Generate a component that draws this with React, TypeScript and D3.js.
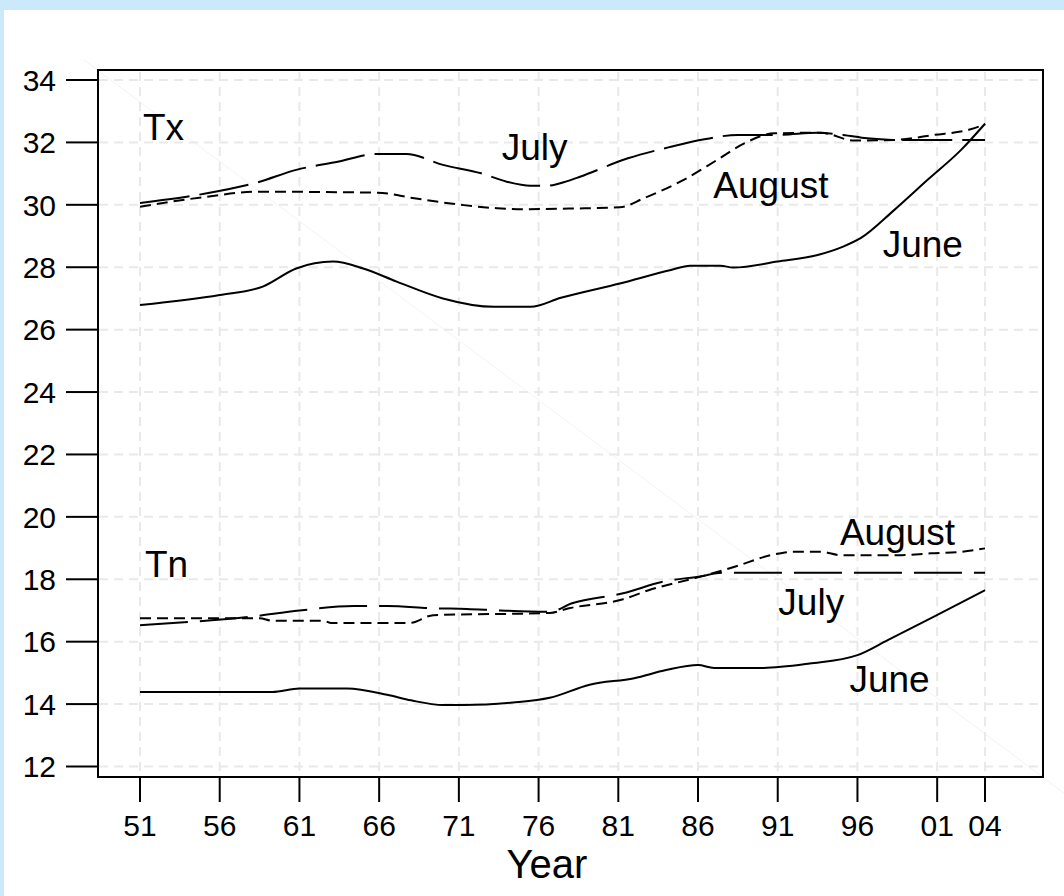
import React from "react";
import * as d3 from "d3";

// ---- Data (year, °C) ----
const txJune: [number, number][] = [
  [1951, 26.79], [1956, 27.11], [1958.7, 27.38], [1960.8, 27.96], [1963.1, 28.18],
  [1965, 27.96], [1967.1, 27.54], [1970, 27.0], [1973.2, 26.73], [1975.5, 26.73],
  [1977.4, 27.02], [1981.1, 27.48], [1984.3, 27.91], [1985.5, 28.05], [1987.4, 28.05],
  [1988.2, 27.99], [1991, 28.18], [1993.5, 28.39], [1995.1, 28.66], [1996.2, 28.93],
  [1998.3, 29.83], [2000.4, 30.8], [2002.5, 31.76], [2004, 32.6],
];
const txJuly: [number, number][] = [
  [1951, 30.06], [1955.2, 30.37], [1958.3, 30.71], [1960.8, 31.12], [1963.4, 31.38],
  [1965.9, 31.63], [1967.7, 31.63], [1970, 31.28], [1972.4, 31.01], [1974, 30.74],
  [1975.5, 30.61], [1976.5, 30.61], [1977.8, 30.76], [1978.6, 30.9], [1981.6, 31.49],
  [1984.3, 31.86], [1986.4, 32.1], [1988.5, 32.24], [1991, 32.24], [1993.5, 32.31],
  [1995.1, 32.24], [1996.6, 32.13], [1998.3, 32.08], [2004, 32.08],
];
const txAugust: [number, number][] = [
  [1951, 29.94], [1955.2, 30.26], [1958.3, 30.42], [1965.9, 30.39], [1968.2, 30.21],
  [1971.3, 29.99], [1973.4, 29.89], [1975.1, 29.86], [1978, 29.88], [1981.1, 29.92],
  [1982.6, 30.21], [1985.1, 30.8], [1987.2, 31.44], [1988.9, 31.97], [1990.8, 32.29],
  [1993.7, 32.31], [1995.8, 32.06], [1998.3, 32.08], [2000.8, 32.24], [2003.1, 32.42],
  [2004, 32.58],
];
const tnJune: [number, number][] = [
  [1951, 14.39], [1959.3, 14.39], [1961, 14.5], [1964, 14.5], [1966.5, 14.3],
  [1968, 14.12], [1970, 13.97], [1971.3, 13.97], [1974.4, 14.05], [1976.7, 14.2],
  [1979.2, 14.62], [1982, 14.83], [1984, 15.09], [1986, 15.25], [1987, 15.16],
  [1990.1, 15.16], [1993, 15.3], [1996, 15.57], [1997.9, 16.05], [2000.8, 16.8],
  [2004, 17.65],
];
const tnJuly: [number, number][] = [
  [1951, 16.53], [1954.3, 16.64], [1957.8, 16.79], [1961, 17.0], [1964.4, 17.14],
  [1966.5, 17.14], [1969.4, 17.07], [1971.5, 17.05], [1973.6, 17.0], [1976.7, 16.96],
  [1978.1, 17.23], [1981.3, 17.55], [1983.8, 17.92], [1986.2, 18.1], [1987.5, 18.21],
  [2004, 18.21],
];
const tnAugust: [number, number][] = [
  [1951, 16.75], [1958.5, 16.75], [1959.3, 16.67], [1962.5, 16.67], [1963, 16.6],
  [1967.9, 16.6], [1969.4, 16.85], [1976.7, 16.92], [1977.9, 17.07], [1981.3, 17.36],
  [1982.9, 17.65], [1986, 18.06], [1988.3, 18.4], [1990.8, 18.8], [1992, 18.88],
  [1993.7, 18.88], [1995, 18.77], [1998.5, 18.77], [2000.6, 18.83], [2002.5, 18.88],
  [2004, 18.99],
];

const xTickYears = [1951, 1956, 1961, 1966, 1971, 1976, 1981, 1986, 1991, 1996, 2001, 2004];
const xTickLabels = ["51", "56", "61", "66", "71", "76", "81", "86", "91", "96", "01", "04"];
const yTicks = [12, 14, 16, 18, 20, 22, 24, 26, 28, 30, 32, 34];

const labels: { text: string; year: number; value: number }[] = [
  { text: "Tx", year: 1951.19, value: 32.08 },
  { text: "July", year: 1973.69, value: 31.44 },
  { text: "August", year: 1986.96, value: 30.21 },
  { text: "June", year: 1997.58, value: 28.32 },
  { text: "Tn", year: 1951.31, value: 18.08 },
  { text: "August", year: 1994.9, value: 19.1 },
  { text: "July", year: 1991.04, value: 16.85 },
  { text: "June", year: 1995.5, value: 14.39 },
];

const W = 1064;
const H = 896;
const frame = { left: 98, right: 1043, top: 70, bottom: 777 };
const FONT = "'Liberation Sans', Arial, Helvetica, sans-serif";

export default function App() {
  const x = d3.scaleLinear().domain([1951, 2004]).range([140, 985]);
  const y = d3.scaleLinear().domain([12, 34]).range([766.5, 80]);
  const line = d3
    .line<[number, number]>()
    .x((d) => x(d[0]))
    .y((d) => y(d[1]))
    .curve(d3.curveMonotoneX);

  const series = [
    { data: txJune, dash: "none" },
    { data: txJuly, dash: "50,10" },
    { data: txAugust, dash: "11,6" },
    { data: tnJune, dash: "none" },
    { data: tnJuly, dash: "48,12" },
    { data: tnAugust, dash: "11,6" },
  ];

  return (
    <svg
      width={W}
      height={H}
      style={{ position: "fixed", left: 0, top: 0, display: "block" }}
      fontFamily={FONT}
    >
      <rect x={0} y={0} width={W} height={H} fill="#cce9fb" />
      <rect x={4} y={10} width={W - 4} height={H - 10} fill="#ffffff" />
      {/* faint diagonal artifact */}
      <line x1={84} y1={60} x2={1064} y2={793} stroke="#f3f3f3" strokeWidth={1} />

      {/* grid */}
      {xTickYears.map((t) => (
        <line
          key={"gx" + t}
          x1={x(t)}
          x2={x(t)}
          y1={frame.top + 2}
          y2={frame.bottom - 1}
          stroke="#e9e9e9"
          strokeWidth={2}
          strokeDasharray="9,6"
        />
      ))}
      {yTicks.map((t) => (
        <line
          key={"gy" + t}
          x1={frame.left + 1}
          x2={frame.right - 1}
          y1={y(t)}
          y2={y(t)}
          stroke="#e9e9e9"
          strokeWidth={2}
          strokeDasharray="9,6"
        />
      ))}

      {/* series */}
      {series.map((s, i) => (
        <path
          key={"s" + i}
          d={line(s.data) || ""}
          fill="none"
          stroke="#000"
          strokeWidth={2}
          strokeDasharray={s.dash}
        />
      ))}

      {/* frame */}
      <rect
        x={frame.left}
        y={frame.top}
        width={frame.right - frame.left}
        height={frame.bottom - frame.top}
        fill="none"
        stroke="#000"
        strokeWidth={2}
      />

      {/* y axis */}
      {yTicks.map((t) => (
        <g key={"yt" + t}>
          <line x1={66} x2={frame.left} y1={y(t)} y2={y(t)} stroke="#000" strokeWidth={2} />
          <text x={56} y={y(t)} dy="0.36em" textAnchor="end" fontSize={30} fill="#000">
            {t}
          </text>
        </g>
      ))}

      {/* x axis */}
      {xTickYears.map((t, i) => (
        <g key={"xt" + t}>
          <line x1={x(t)} x2={x(t)} y1={frame.bottom} y2={802} stroke="#000" strokeWidth={2} />
          <text x={x(t)} y={836} textAnchor="middle" fontSize={30} fill="#000">
            {xTickLabels[i]}
          </text>
        </g>
      ))}
      <text x={547} y={878} textAnchor="middle" fontSize={40} fill="#000">
        Year
      </text>

      {/* in-plot labels */}
      {labels.map((l, i) => (
        <text key={"l" + i} x={x(l.year)} y={y(l.value)} fontSize={37} fill="#000">
          {l.text}
        </text>
      ))}
    </svg>
  );
}
